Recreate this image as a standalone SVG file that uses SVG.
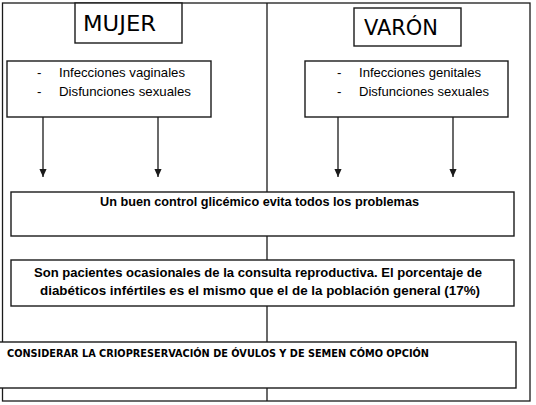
<svg xmlns="http://www.w3.org/2000/svg" width="536" height="405" viewBox="0 0 536 405">
<style>
.ln{fill:none;stroke:#1a1a1a;stroke-width:1.3}
.bx{fill:#fff;stroke:#1a1a1a;stroke-width:1.4}
.hd{font-family:"DejaVu Sans",sans-serif;font-size:20.5px;fill:#000}
.li{font-family:"Liberation Sans",Arial,sans-serif;font-size:13.2px;fill:#000}
.bd{font-family:"Liberation Sans",Arial,sans-serif;font-size:12px;font-weight:bold;fill:#000}
.cp{font-family:"DejaVu Sans",sans-serif;font-size:11px;font-weight:bold;fill:#000}
.ar{stroke:#1a1a1a;stroke-width:1.3;fill:none}
</style>
<defs>
<marker id="ah" markerUnits="userSpaceOnUse" markerWidth="8" markerHeight="9" refX="9" refY="4" orient="auto" viewBox="0 0 9 8">
<path d="M0,0 L9,4 L0,8 z" fill="#1a1a1a"/>
</marker>
</defs>
<rect width="536" height="405" fill="#fff"/>
<g id="frame">
<rect class="ln" x="2.5" y="3" width="527.5" height="398"/>
<line class="ln" x1="267" y1="3" x2="267" y2="401"/>
</g>
<g id="mujer">
<rect class="bx" x="75" y="3" width="107" height="40"/>
<text class="hd" x="83" y="31" textLength="73" lengthAdjust="spacingAndGlyphs">MUJER</text>
</g>
<g id="varon">
<rect class="bx" x="354" y="8" width="107" height="38"/>
<text class="hd" x="364" y="35" textLength="74" lengthAdjust="spacingAndGlyphs">VARÓN</text>
</g>
<g id="mujer-list">
<rect class="bx" x="7" y="61" width="204" height="56"/>
<text class="li" x="37" y="77">-</text>
<text class="li" x="59" y="77" textLength="126" lengthAdjust="spacingAndGlyphs">Infecciones vaginales</text>
<text class="li" x="37" y="96">-</text>
<text class="li" x="59" y="96" textLength="132" lengthAdjust="spacingAndGlyphs">Disfunciones sexuales</text>
</g>
<g id="varon-list">
<rect class="bx" x="305" y="61" width="203" height="56"/>
<text class="li" x="337" y="77">-</text>
<text class="li" x="359" y="77" textLength="122" lengthAdjust="spacingAndGlyphs">Infecciones genitales</text>
<text class="li" x="337" y="96">-</text>
<text class="li" x="359" y="96" textLength="130" lengthAdjust="spacingAndGlyphs">Disfunciones sexuales</text>
</g>
<g id="connectors">
<line class="ar" x1="43" y1="117" x2="43" y2="177" marker-end="url(#ah)"/>
<line class="ar" x1="158" y1="117" x2="158" y2="177" marker-end="url(#ah)"/>
<line class="ar" x1="338" y1="117" x2="338" y2="177" marker-end="url(#ah)"/>
<line class="ar" x1="453" y1="117" x2="453" y2="177" marker-end="url(#ah)"/>
</g>
<g id="control">
<rect class="bx" x="11" y="192" width="503" height="44"/>
<text class="bd" x="100" y="206" textLength="319" lengthAdjust="spacingAndGlyphs">Un buen control glicémico evita todos los problemas</text>
</g>
<g id="pacientes">
<rect class="bx" x="11" y="260" width="503" height="46"/>
<text class="bd" x="34" y="277" textLength="448" lengthAdjust="spacingAndGlyphs">Son pacientes ocasionales de la consulta reproductiva. El porcentaje de</text>
<text class="bd" x="40" y="295" textLength="440" lengthAdjust="spacingAndGlyphs">diabéticos infértiles es el mismo que el de la población general (17%)</text>
</g>
<g id="criopreservacion">
<rect class="bx" x="-2" y="342" width="518" height="46"/>
<text class="cp" x="7" y="357" textLength="422" lengthAdjust="spacingAndGlyphs">CONSIDERAR LA CRIOPRESERVACIÓN DE ÓVULOS Y DE SEMEN CÓMO OPCIÓN</text>
</g>
</svg>
